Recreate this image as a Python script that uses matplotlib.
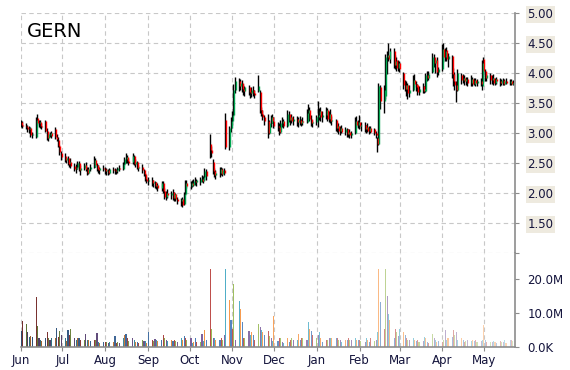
import numpy as np
import pandas as pd
import matplotlib
matplotlib.use("Agg")
import matplotlib.pyplot as plt
import matplotlib.dates as mdates
from matplotlib.colors import to_rgb
from matplotlib.ticker import FuncFormatter

ticker = "GERN"
dates = pd.bdate_range("2023-06-01", "2024-05-22")

# one line per month, Jun 2023 .. May 2024
opens = [
    3.18, 3.14, 3.12, 3.10, 3.06, 3.08, 2.96, 2.93, 3.25, 3.16, 3.18, 3.12, 3.20, 3.04, 2.92, 2.96, 3.00, 3.06, 2.94, 2.88, 2.78, 2.66,
    2.62, 2.55, 2.58, 2.50, 2.52, 2.45, 2.40, 2.44, 2.50, 2.38, 2.42, 2.46, 2.40, 2.34, 2.40, 2.44, 2.55, 2.46, 2.42, 2.38, 2.42,
    2.40, 2.36, 2.38, 2.34, 2.40, 2.38, 2.36, 2.38, 2.42, 2.40, 2.48, 2.56, 2.60, 2.54, 2.52, 2.62, 2.48, 2.52, 2.42, 2.44, 2.38, 2.32, 2.24,
    2.20, 2.22, 2.16, 2.18, 2.12, 2.14, 2.08, 2.16, 2.04, 1.94, 2.00, 1.96, 2.02, 1.92, 1.98, 1.90, 1.86, 1.90, 1.82, 1.98, 2.16,
    2.12, 2.16, 2.14, 2.20, 2.18, 2.18, 2.24, 2.20, 2.26, 2.36, 2.82, 2.72, 2.52, 2.36, 2.30, 2.34, 2.40, 2.32, 2.38, 3.22, 2.76, 3.08,
    3.20, 3.30, 3.72, 3.86, 3.78, 3.84, 3.74, 3.70, 3.76, 3.68, 3.66, 3.72, 3.66, 3.70, 3.68, 3.38, 3.32, 3.26, 3.20, 3.00, 3.16, 3.26,
    3.20, 3.12, 3.10, 3.02, 3.16, 3.20, 3.12, 3.32, 3.22, 3.26, 3.20, 3.24, 3.18, 3.22, 3.16, 3.20, 3.18, 3.34, 3.38, 3.24, 3.16,
    3.18, 3.26, 3.30, 3.36, 3.26, 3.30, 3.38, 3.24, 3.32, 3.20, 3.22, 3.08, 3.12, 3.04, 3.08, 3.02, 3.06, 2.98, 3.02, 2.96, 3.00, 3.20, 3.14,
    3.18, 3.12, 3.14, 3.06, 3.10, 3.04, 3.08, 3.06, 3.00, 2.92, 2.82, 3.76, 3.54, 3.62, 4.26, 4.30, 4.24, 4.36, 4.14, 4.22, 4.08,
    4.16, 4.00, 3.80, 3.74, 3.80, 3.66, 3.72, 3.88, 3.82, 3.80, 3.68, 3.78, 3.70, 3.70, 3.96, 3.92, 4.02, 4.26, 4.16, 4.22, 4.02,
    4.06, 4.40, 4.26, 4.38, 4.24, 4.28, 3.98, 3.86, 3.80, 3.72, 3.96, 3.88, 3.92, 3.86, 3.90, 3.84, 3.90, 3.82, 3.88, 3.84, 3.86, 3.78,
    4.24, 4.04, 3.92, 3.96, 3.88, 3.92, 3.84, 3.90, 3.86, 3.84, 3.88, 3.82, 3.86, 3.84, 3.86, 3.82,
]
highs = [
    3.22, 3.20, 3.17, 3.14, 3.12, 3.10, 3.02, 3.26, 3.32, 3.22, 3.22, 3.16, 3.22, 3.08, 3.02, 3.02, 3.04, 3.10, 2.98, 2.94, 2.80, 2.70,
    2.66, 2.60, 2.62, 2.56, 2.58, 2.50, 2.48, 2.54, 2.54, 2.46, 2.50, 2.52, 2.44, 2.44, 2.48, 2.62, 2.58, 2.50, 2.46, 2.44, 2.46,
    2.44, 2.42, 2.40, 2.42, 2.44, 2.42, 2.40, 2.44, 2.46, 2.52, 2.60, 2.66, 2.64, 2.58, 2.66, 2.64, 2.56, 2.54, 2.46, 2.48, 2.40, 2.34, 2.28,
    2.26, 2.26, 2.22, 2.20, 2.18, 2.16, 2.20, 2.20, 2.08, 2.04, 2.06, 2.04, 2.06, 2.02, 2.00, 1.94, 1.92, 1.94, 2.02, 2.22, 2.22,
    2.20, 2.22, 2.24, 2.26, 2.24, 2.26, 2.30, 2.28, 2.42, 2.40, 2.98, 2.78, 2.56, 2.42, 2.38, 2.44, 2.44, 2.42, 2.42, 3.33, 3.12, 3.26,
    3.36, 3.82, 3.94, 3.92, 3.90, 3.88, 3.82, 3.78, 3.80, 3.74, 3.76, 3.78, 3.72, 3.97, 3.72, 3.44, 3.38, 3.30, 3.32, 3.22, 3.30, 3.32,
    3.26, 3.18, 3.16, 3.22, 3.26, 3.24, 3.38, 3.36, 3.30, 3.32, 3.28, 3.28, 3.26, 3.28, 3.24, 3.26, 3.40, 3.48, 3.44, 3.30, 3.22,
    3.30, 3.54, 3.42, 3.44, 3.36, 3.44, 3.42, 3.36, 3.40, 3.28, 3.24, 3.18, 3.16, 3.12, 3.14, 3.10, 3.08, 3.06, 3.06, 3.04, 3.26, 3.28, 3.22,
    3.30, 3.18, 3.18, 3.14, 3.16, 3.12, 3.12, 3.08, 3.04, 2.94, 3.84, 3.80, 3.80, 4.32, 4.36, 4.50, 4.42, 4.42, 4.30, 4.26, 4.22,
    4.20, 4.02, 3.88, 3.86, 3.84, 3.80, 3.96, 3.98, 3.86, 3.82, 3.78, 3.84, 3.78, 4.00, 4.04, 4.04, 4.34, 4.32, 4.24, 4.26, 4.10,
    4.48, 4.50, 4.42, 4.44, 4.34, 4.30, 4.08, 4.02, 3.86, 4.06, 4.00, 3.98, 3.96, 3.94, 3.94, 3.96, 3.94, 3.92, 3.92, 3.90, 3.92, 4.22,
    4.26, 4.06, 4.02, 4.00, 3.96, 3.98, 3.92, 3.94, 3.92, 3.90, 3.92, 3.90, 3.92, 3.90, 3.90, 3.88,
]
lows = [
    3.10, 3.08, 3.06, 3.02, 3.00, 2.94, 2.92, 2.92, 3.14, 3.10, 3.08, 3.06, 3.02, 2.88, 2.86, 2.94, 2.92, 2.90, 2.86, 2.76, 2.64, 2.55,
    2.52, 2.50, 2.46, 2.44, 2.42, 2.36, 2.34, 2.40, 2.36, 2.30, 2.38, 2.36, 2.30, 2.32, 2.36, 2.42, 2.44, 2.36, 2.34, 2.32, 2.36,
    2.32, 2.30, 2.30, 2.32, 2.34, 2.32, 2.32, 2.34, 2.36, 2.38, 2.46, 2.50, 2.50, 2.46, 2.48, 2.46, 2.44, 2.40, 2.36, 2.34, 2.28, 2.20, 2.16,
    2.14, 2.12, 2.10, 2.08, 2.06, 2.04, 2.04, 2.00, 1.90, 1.88, 1.92, 1.90, 1.88, 1.86, 1.86, 1.82, 1.78, 1.76, 1.80, 1.96, 2.08,
    2.06, 2.10, 2.12, 2.14, 2.12, 2.14, 2.18, 2.16, 2.22, 2.22, 2.58, 2.60, 2.32, 2.26, 2.24, 2.26, 2.30, 2.28, 2.30, 2.74, 2.72, 3.02,
    3.14, 3.28, 3.66, 3.70, 3.72, 3.68, 3.64, 3.62, 3.64, 3.58, 3.60, 3.62, 3.58, 3.68, 3.34, 3.28, 3.22, 3.14, 2.92, 2.98, 3.10, 3.16,
    3.08, 3.04, 2.96, 3.00, 3.10, 3.08, 3.10, 3.18, 3.14, 3.16, 3.14, 3.12, 3.10, 3.14, 3.12, 3.14, 3.16, 3.26, 3.20, 3.12, 3.10,
    3.14, 3.10, 3.22, 3.20, 3.18, 3.24, 3.20, 3.18, 3.16, 3.14, 3.04, 3.02, 2.98, 2.96, 3.00, 2.96, 2.94, 2.94, 2.92, 2.92, 2.98, 3.10, 3.08,
    3.06, 3.04, 3.02, 3.00, 3.02, 2.98, 3.00, 2.96, 2.92, 2.68, 2.80, 3.40, 3.34, 3.56, 3.98, 4.20, 4.16, 4.08, 4.06, 4.04, 4.04,
    4.02, 3.74, 3.70, 3.62, 3.56, 3.60, 3.70, 3.76, 3.70, 3.64, 3.64, 3.66, 3.66, 3.68, 3.86, 3.88, 4.00, 4.10, 4.00, 3.94, 3.96,
    4.04, 4.18, 4.20, 4.20, 4.10, 3.92, 3.78, 3.72, 3.52, 3.70, 3.82, 3.84, 3.80, 3.80, 3.78, 3.78, 3.78, 3.80, 3.78, 3.78, 3.78, 3.72,
    3.94, 3.86, 3.86, 3.82, 3.82, 3.80, 3.80, 3.82, 3.78, 3.80, 3.80, 3.80, 3.82, 3.80, 3.80, 3.80,
]
closes = [
    3.14, 3.12, 3.10, 3.06, 3.09, 2.96, 2.98, 3.22, 3.16, 3.18, 3.12, 3.10, 3.04, 2.92, 2.98, 3.00, 2.95, 2.94, 2.90, 2.78, 2.68, 2.60,
    2.55, 2.58, 2.48, 2.52, 2.45, 2.40, 2.44, 2.50, 2.38, 2.42, 2.46, 2.40, 2.34, 2.40, 2.44, 2.55, 2.46, 2.40, 2.38, 2.42, 2.40,
    2.36, 2.38, 2.34, 2.40, 2.38, 2.36, 2.38, 2.42, 2.40, 2.48, 2.56, 2.60, 2.54, 2.50, 2.62, 2.48, 2.52, 2.42, 2.44, 2.38, 2.32, 2.24, 2.20,
    2.22, 2.16, 2.18, 2.12, 2.14, 2.08, 2.16, 2.04, 1.94, 2.00, 1.96, 2.00, 1.92, 1.98, 1.90, 1.86, 1.90, 1.80, 1.98, 2.16, 2.12,
    2.16, 2.14, 2.20, 2.18, 2.22, 2.24, 2.20, 2.26, 2.36, 2.28, 2.72, 2.66, 2.36, 2.30, 2.34, 2.40, 2.32, 2.38, 2.34, 2.76, 3.08, 3.20,
    3.30, 3.72, 3.86, 3.78, 3.84, 3.74, 3.70, 3.76, 3.68, 3.66, 3.72, 3.66, 3.64, 3.78, 3.38, 3.32, 3.26, 3.20, 3.00, 3.16, 3.26, 3.20,
    3.12, 3.10, 3.02, 3.16, 3.20, 3.12, 3.32, 3.22, 3.26, 3.20, 3.24, 3.18, 3.22, 3.16, 3.20, 3.18, 3.34, 3.38, 3.24, 3.16, 3.18,
    3.26, 3.30, 3.36, 3.26, 3.30, 3.38, 3.24, 3.32, 3.20, 3.22, 3.08, 3.12, 3.04, 3.08, 3.02, 3.06, 2.98, 3.02, 2.96, 3.00, 3.20, 3.14, 3.18,
    3.12, 3.14, 3.06, 3.10, 3.04, 3.08, 3.02, 3.00, 2.96, 2.82, 3.78, 3.54, 3.72, 4.26, 4.30, 4.24, 4.36, 4.14, 4.20, 4.08, 4.16,
    4.06, 3.80, 3.74, 3.80, 3.66, 3.72, 3.88, 3.82, 3.76, 3.68, 3.74, 3.70, 3.74, 3.96, 3.92, 3.98, 4.26, 4.16, 4.22, 4.02, 4.06,
    4.40, 4.26, 4.36, 4.24, 4.28, 3.98, 3.86, 3.80, 3.72, 4.00, 3.88, 3.92, 3.86, 3.90, 3.84, 3.90, 3.82, 3.88, 3.84, 3.86, 3.82, 4.16,
    4.04, 3.92, 3.96, 3.88, 3.92, 3.84, 3.90, 3.86, 3.84, 3.88, 3.82, 3.86, 3.84, 3.86, 3.82, 3.84,
]
# volume in millions
volumes = [
    4.7, 7.6, 6.7, 4.4, 3.0, 3.1, 2.9, 14.7, 6.1, 2.7, 2.0, 1.8, 2.6, 4.3, 2.6, 2.2, 2.5, 2.5, 5.7, 2.9, 4.6, 3.4,
    2.5, 1.8, 4.9, 3.4, 5.4, 2.5, 2.0, 2.5, 2.5, 2.0, 2.0, 3.7, 2.1, 2.0, 1.8, 2.1, 2.0, 4.2, 1.5, 1.2, 1.6,
    1.5, 1.5, 1.2, 1.6, 1.4, 3.1, 1.2, 1.5, 1.3, 2.5, 3.4, 3.7, 2.5, 1.8, 2.7, 2.1, 1.5, 1.5, 1.3, 2.2, 1.7, 1.7, 1.2,
    4.3, 2.2, 1.9, 2.4, 2.1, 1.8, 2.2, 3.4, 2.5, 2.2, 1.8, 2.0, 1.8, 2.0, 1.7, 1.6, 2.5, 2.0, 3.1, 2.7, 2.0,
    2.5, 1.2, 1.4, 2.7, 1.4, 1.4, 3.7, 1.7, 4.9, 2.0, 23.0, 5.4, 2.5, 2.5, 2.0, 2.2, 2.5, 2.0, 3.4, 23.0, 13.7, 8.0,
    5.4, 18.4, 2.1, 13.4, 11.3, 7.3, 2.5, 2.5, 4.6, 3.4, 4.4, 3.4, 2.0, 6.9, 5.8, 4.9, 4.4, 3.4, 4.6, 3.1, 2.7, 1.8,
    9.0, 1.8, 2.5, 2.7, 1.5, 1.2, 2.7, 1.5, 2.0, 2.5, 2.0, 2.1, 3.9, 2.1, 2.5, 2.7, 2.0, 7.3, 5.4, 4.6, 3.4,
    2.7, 3.4, 4.4, 2.5, 1.5, 2.1, 2.1, 2.5, 2.7, 2.5, 2.5, 2.7, 2.1, 2.0, 1.5, 2.1, 2.1, 2.5, 2.0, 2.1, 2.7, 2.0, 2.0,
    2.1, 1.8, 1.5, 2.5, 2.0, 1.6, 2.7, 1.8, 2.0, 4.4, 23.0, 13.2, 5.4, 23.0, 15.1, 9.6, 7.8, 2.5, 5.4, 4.4, 3.1,
    5.4, 4.4, 3.4, 2.7, 2.1, 2.0, 2.5, 2.1, 1.7, 2.0, 1.5, 1.7, 2.8, 2.5, 1.5, 1.2, 3.7, 2.5, 2.0, 1.5, 1.7,
    1.5, 2.0, 5.1, 2.1, 2.7, 2.9, 4.9, 3.4, 4.4, 2.2, 2.5, 2.1, 1.5, 1.8, 2.0, 1.8, 2.0, 1.8, 2.0, 1.5, 1.8, 2.2,
    6.4, 2.0, 1.5, 1.5, 1.5, 1.8, 1.5, 1.2, 1.8, 1.5, 1.4, 2.0, 1.2, 2.1, 2.0, 1.8,
]
price_ticks = [1.5, 2.0, 2.5, 3.0, 3.5, 4.0, 4.5, 5.0]
volume_ticks = [0, 10e6, 20e6]

office = ['#4f81bd', '#c0504d', '#9bbb59', '#8064a2', '#4bacc6', '#f79646']
label_col = '#14143c'
grid_kw = dict(color='#c8c8c8', linestyle=(0, (4, 3)), linewidth=0.8)


def shade(c, t):
    r = np.array(to_rgb(c))
    if t < 0:
        return tuple(r * (1 + t))
    return tuple(r + (1 - r) * t)


o = np.array(opens)
h = np.array(highs)
l = np.array(lows)
c = np.array(closes)
v = np.array(volumes) * 1e6
x = mdates.date2num(dates)

fig = plt.figure(figsize=(5.7, 3.7), dpi=100)
W, H = 570, 370
left, right = 21, 515
ax = fig.add_axes([left / W, 1 - 253 / H, (right - left) / W, 240 / H])
axv = fig.add_axes([left / W, 1 - 347 / H, (right - left) / W, 94 / H])

x0 = mdates.date2num(pd.Timestamp("2023-06-01"))
x1 = mdates.date2num(pd.Timestamp("2024-05-23 12:00"))

# candles
up = c >= o
body_col = np.where(up, '#00a650', '#ff0000')
ax.vlines(x - 0.3, l, h, color='black', linewidth=1.0)
ax.vlines(x + 0.4, np.minimum(o, c), np.maximum(o, c), colors=body_col, linewidth=1.0)
ax.set_xlim(x0, x1)
ax.set_ylim(1.0, 5.0)
ax.set_yticks([1.0] + price_ticks)
ax.set_yticklabels([''] + ['%.2f' % p for p in price_ticks])

# volume
n = len(v)
cols = [shade(office[i % 6], t) for i, t in enumerate(np.linspace(-0.4, 0.62, n))]
axv.bar(x, v, width=0.8, color=cols, linewidth=0)
axv.set_xlim(x0, x1)
axv.set_ylim(0, 27.6e6)
axv.set_yticks(volume_ticks)
axv.yaxis.set_major_formatter(FuncFormatter(lambda val, pos: '0.0K' if val == 0 else '%.1fM' % (val / 1e6)))

for a in (ax, axv):
    for s in ('left', 'top', 'bottom'):
        a.spines[s].set_visible(False)
    a.spines['right'].set_color('#8c8c8c')
    a.spines['right'].set_linewidth(1.2)
    a.yaxis.tick_right()
    a.tick_params(axis='y', direction='out', length=3, width=0.8, color='#8c8c8c',
                  labelsize=8.5, labelcolor=label_col, pad=6)
    a.xaxis.set_major_locator(mdates.MonthLocator())
    a.grid(True, axis='x', **grid_kw)
    a.set_axisbelow(True)

ax.grid(True, axis='y', **grid_kw)
ax.tick_params(axis='x', length=0, labelbottom=False)
for t in ax.get_yticklabels():
    t.set_bbox(dict(facecolor='#eeeadf', edgecolor='none', pad=1.2))

axv.spines['bottom'].set_visible(True)
axv.spines['bottom'].set_color('#8c8c8c')
axv.spines['bottom'].set_linewidth(1.2)
axv.xaxis.set_major_formatter(mdates.DateFormatter('%b'))
axv.tick_params(axis='x', direction='out', length=3, width=0.8, color='#8c8c8c',
                labelsize=8.5, labelcolor=label_col, pad=2)

fig.text(27 / W, 1 - 37 / H, ticker, fontsize=14, color='black', va='baseline')

fig.savefig('out.png', dpi=100, facecolor='white')
